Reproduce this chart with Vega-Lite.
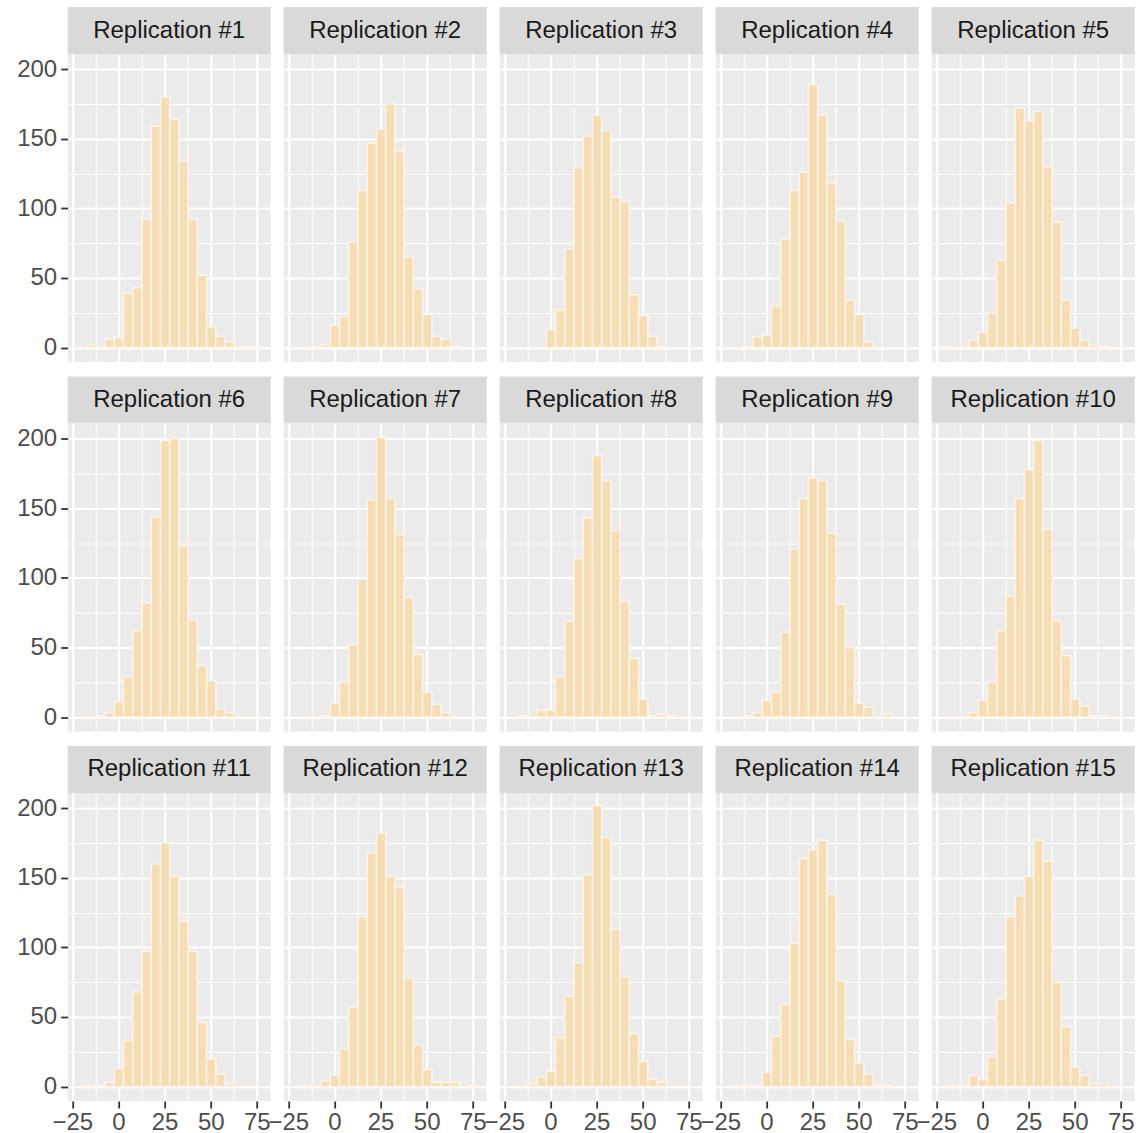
{
  "$schema": "https://vega.github.io/schema/vega-lite/v6.json",
  "background": "white",
  "padding": {"left": 15.7, "top": 7, "right": 0, "bottom": 0},
  "datasets": {
    "h": [
      {"r":1,"x":-22.5,"n":0},{"r":1,"x":-17.5,"n":2},{"r":1,"x":-12.5,"n":0},{"r":1,"x":-7.5,"n":6},{"r":1,"x":-2.5,"n":7},{"r":1,"x":2.5,"n":39},{"r":1,"x":7.5,"n":43},{"r":1,"x":12.5,"n":92},{"r":1,"x":17.5,"n":159},{"r":1,"x":22.5,"n":180},{"r":1,"x":27.5,"n":164},{"r":1,"x":32.5,"n":134},{"r":1,"x":37.5,"n":92},{"r":1,"x":42.5,"n":52},{"r":1,"x":47.5,"n":15},{"r":1,"x":52.5,"n":8},{"r":1,"x":57.5,"n":4},{"r":1,"x":62.5,"n":0},{"r":1,"x":67.5,"n":1},{"r":1,"x":72.5,"n":1},
      {"r":2,"x":-22.5,"n":0},{"r":2,"x":-17.5,"n":0},{"r":2,"x":-12.5,"n":1},{"r":2,"x":-7.5,"n":2},{"r":2,"x":-2.5,"n":16},{"r":2,"x":2.5,"n":22},{"r":2,"x":7.5,"n":76},{"r":2,"x":12.5,"n":113},{"r":2,"x":17.5,"n":147},{"r":2,"x":22.5,"n":157},{"r":2,"x":27.5,"n":175},{"r":2,"x":32.5,"n":141},{"r":2,"x":37.5,"n":65},{"r":2,"x":42.5,"n":42},{"r":2,"x":47.5,"n":24},{"r":2,"x":52.5,"n":8},{"r":2,"x":57.5,"n":6},{"r":2,"x":62.5,"n":1},{"r":2,"x":67.5,"n":0},{"r":2,"x":72.5,"n":0},
      {"r":3,"x":-22.5,"n":0},{"r":3,"x":-17.5,"n":0},{"r":3,"x":-12.5,"n":0},{"r":3,"x":-7.5,"n":0},{"r":3,"x":-2.5,"n":13},{"r":3,"x":2.5,"n":27},{"r":3,"x":7.5,"n":71},{"r":3,"x":12.5,"n":129},{"r":3,"x":17.5,"n":152},{"r":3,"x":22.5,"n":167},{"r":3,"x":27.5,"n":156},{"r":3,"x":32.5,"n":108},{"r":3,"x":37.5,"n":105},{"r":3,"x":42.5,"n":38},{"r":3,"x":47.5,"n":23},{"r":3,"x":52.5,"n":8},{"r":3,"x":57.5,"n":1},{"r":3,"x":62.5,"n":0},{"r":3,"x":67.5,"n":0},{"r":3,"x":72.5,"n":0},
      {"r":4,"x":-22.5,"n":0},{"r":4,"x":-17.5,"n":0},{"r":4,"x":-12.5,"n":1},{"r":4,"x":-7.5,"n":8},{"r":4,"x":-2.5,"n":9},{"r":4,"x":2.5,"n":30},{"r":4,"x":7.5,"n":78},{"r":4,"x":12.5,"n":113},{"r":4,"x":17.5,"n":126},{"r":4,"x":22.5,"n":189},{"r":4,"x":27.5,"n":167},{"r":4,"x":32.5,"n":118},{"r":4,"x":37.5,"n":91},{"r":4,"x":42.5,"n":34},{"r":4,"x":47.5,"n":24},{"r":4,"x":52.5,"n":4},{"r":4,"x":57.5,"n":0},{"r":4,"x":62.5,"n":0},{"r":4,"x":67.5,"n":0},{"r":4,"x":72.5,"n":0},
      {"r":5,"x":-22.5,"n":1},{"r":5,"x":-17.5,"n":0},{"r":5,"x":-12.5,"n":0},{"r":5,"x":-7.5,"n":5},{"r":5,"x":-2.5,"n":11},{"r":5,"x":2.5,"n":25},{"r":5,"x":7.5,"n":63},{"r":5,"x":12.5,"n":104},{"r":5,"x":17.5,"n":172},{"r":5,"x":22.5,"n":163},{"r":5,"x":27.5,"n":170},{"r":5,"x":32.5,"n":130},{"r":5,"x":37.5,"n":90},{"r":5,"x":42.5,"n":34},{"r":5,"x":47.5,"n":14},{"r":5,"x":52.5,"n":5},{"r":5,"x":57.5,"n":2},{"r":5,"x":62.5,"n":1},{"r":5,"x":67.5,"n":0},{"r":5,"x":72.5,"n":0},
      {"r":6,"x":-22.5,"n":0},{"r":6,"x":-17.5,"n":0},{"r":6,"x":-12.5,"n":1},{"r":6,"x":-7.5,"n":3},{"r":6,"x":-2.5,"n":11},{"r":6,"x":2.5,"n":29},{"r":6,"x":7.5,"n":62},{"r":6,"x":12.5,"n":82},{"r":6,"x":17.5,"n":144},{"r":6,"x":22.5,"n":199},{"r":6,"x":27.5,"n":200},{"r":6,"x":32.5,"n":123},{"r":6,"x":37.5,"n":70},{"r":6,"x":42.5,"n":37},{"r":6,"x":47.5,"n":26},{"r":6,"x":52.5,"n":6},{"r":6,"x":57.5,"n":3},{"r":6,"x":62.5,"n":0},{"r":6,"x":67.5,"n":0},{"r":6,"x":72.5,"n":0},
      {"r":7,"x":-22.5,"n":0},{"r":7,"x":-17.5,"n":0},{"r":7,"x":-12.5,"n":0},{"r":7,"x":-7.5,"n":1},{"r":7,"x":-2.5,"n":10},{"r":7,"x":2.5,"n":25},{"r":7,"x":7.5,"n":52},{"r":7,"x":12.5,"n":99},{"r":7,"x":17.5,"n":156},{"r":7,"x":22.5,"n":201},{"r":7,"x":27.5,"n":157},{"r":7,"x":32.5,"n":131},{"r":7,"x":37.5,"n":86},{"r":7,"x":42.5,"n":45},{"r":7,"x":47.5,"n":18},{"r":7,"x":52.5,"n":9},{"r":7,"x":57.5,"n":3},{"r":7,"x":62.5,"n":0},{"r":7,"x":67.5,"n":0},{"r":7,"x":72.5,"n":0},
      {"r":8,"x":-22.5,"n":0},{"r":8,"x":-17.5,"n":1},{"r":8,"x":-12.5,"n":0},{"r":8,"x":-7.5,"n":5},{"r":8,"x":-2.5,"n":5},{"r":8,"x":2.5,"n":29},{"r":8,"x":7.5,"n":69},{"r":8,"x":12.5,"n":114},{"r":8,"x":17.5,"n":143},{"r":8,"x":22.5,"n":188},{"r":8,"x":27.5,"n":170},{"r":8,"x":32.5,"n":134},{"r":8,"x":37.5,"n":83},{"r":8,"x":42.5,"n":42},{"r":8,"x":47.5,"n":13},{"r":8,"x":52.5,"n":1},{"r":8,"x":57.5,"n":2},{"r":8,"x":62.5,"n":1},{"r":8,"x":67.5,"n":0},{"r":8,"x":72.5,"n":0},
      {"r":9,"x":-22.5,"n":0},{"r":9,"x":-17.5,"n":0},{"r":9,"x":-12.5,"n":1},{"r":9,"x":-7.5,"n":3},{"r":9,"x":-2.5,"n":12},{"r":9,"x":2.5,"n":18},{"r":9,"x":7.5,"n":61},{"r":9,"x":12.5,"n":121},{"r":9,"x":17.5,"n":157},{"r":9,"x":22.5,"n":172},{"r":9,"x":27.5,"n":170},{"r":9,"x":32.5,"n":132},{"r":9,"x":37.5,"n":81},{"r":9,"x":42.5,"n":50},{"r":9,"x":47.5,"n":10},{"r":9,"x":52.5,"n":7},{"r":9,"x":57.5,"n":0},{"r":9,"x":62.5,"n":2},{"r":9,"x":67.5,"n":0},{"r":9,"x":72.5,"n":0},
      {"r":10,"x":-22.5,"n":0},{"r":10,"x":-17.5,"n":0},{"r":10,"x":-12.5,"n":0},{"r":10,"x":-7.5,"n":3},{"r":10,"x":-2.5,"n":12},{"r":10,"x":2.5,"n":25},{"r":10,"x":7.5,"n":62},{"r":10,"x":12.5,"n":87},{"r":10,"x":17.5,"n":157},{"r":10,"x":22.5,"n":178},{"r":10,"x":27.5,"n":199},{"r":10,"x":32.5,"n":135},{"r":10,"x":37.5,"n":69},{"r":10,"x":42.5,"n":44},{"r":10,"x":47.5,"n":13},{"r":10,"x":52.5,"n":8},{"r":10,"x":57.5,"n":1},{"r":10,"x":62.5,"n":1},{"r":10,"x":67.5,"n":0},{"r":10,"x":72.5,"n":0},
      {"r":11,"x":-22.5,"n":0},{"r":11,"x":-17.5,"n":1},{"r":11,"x":-12.5,"n":1},{"r":11,"x":-7.5,"n":3},{"r":11,"x":-2.5,"n":13},{"r":11,"x":2.5,"n":33},{"r":11,"x":7.5,"n":68},{"r":11,"x":12.5,"n":97},{"r":11,"x":17.5,"n":160},{"r":11,"x":22.5,"n":175},{"r":11,"x":27.5,"n":151},{"r":11,"x":32.5,"n":119},{"r":11,"x":37.5,"n":97},{"r":11,"x":42.5,"n":46},{"r":11,"x":47.5,"n":20},{"r":11,"x":52.5,"n":9},{"r":11,"x":57.5,"n":2},{"r":11,"x":62.5,"n":0},{"r":11,"x":67.5,"n":0},{"r":11,"x":72.5,"n":0},
      {"r":12,"x":-22.5,"n":0},{"r":12,"x":-17.5,"n":1},{"r":12,"x":-12.5,"n":0},{"r":12,"x":-7.5,"n":4},{"r":12,"x":-2.5,"n":8},{"r":12,"x":2.5,"n":27},{"r":12,"x":7.5,"n":57},{"r":12,"x":12.5,"n":122},{"r":12,"x":17.5,"n":168},{"r":12,"x":22.5,"n":182},{"r":12,"x":27.5,"n":151},{"r":12,"x":32.5,"n":143},{"r":12,"x":37.5,"n":78},{"r":12,"x":42.5,"n":30},{"r":12,"x":47.5,"n":12},{"r":12,"x":52.5,"n":3},{"r":12,"x":57.5,"n":3},{"r":12,"x":62.5,"n":3},{"r":12,"x":67.5,"n":0},{"r":12,"x":72.5,"n":1},
      {"r":13,"x":-22.5,"n":0},{"r":13,"x":-17.5,"n":0},{"r":13,"x":-12.5,"n":2},{"r":13,"x":-7.5,"n":7},{"r":13,"x":-2.5,"n":11},{"r":13,"x":2.5,"n":35},{"r":13,"x":7.5,"n":65},{"r":13,"x":12.5,"n":89},{"r":13,"x":17.5,"n":152},{"r":13,"x":22.5,"n":202},{"r":13,"x":27.5,"n":179},{"r":13,"x":32.5,"n":113},{"r":13,"x":37.5,"n":79},{"r":13,"x":42.5,"n":38},{"r":13,"x":47.5,"n":18},{"r":13,"x":52.5,"n":5},{"r":13,"x":57.5,"n":3},{"r":13,"x":62.5,"n":0},{"r":13,"x":67.5,"n":0},{"r":13,"x":72.5,"n":0},
      {"r":14,"x":-22.5,"n":0},{"r":14,"x":-17.5,"n":1},{"r":14,"x":-12.5,"n":1},{"r":14,"x":-7.5,"n":1},{"r":14,"x":-2.5,"n":10},{"r":14,"x":2.5,"n":36},{"r":14,"x":7.5,"n":59},{"r":14,"x":12.5,"n":103},{"r":14,"x":17.5,"n":164},{"r":14,"x":22.5,"n":170},{"r":14,"x":27.5,"n":177},{"r":14,"x":32.5,"n":138},{"r":14,"x":37.5,"n":76},{"r":14,"x":42.5,"n":34},{"r":14,"x":47.5,"n":17},{"r":14,"x":52.5,"n":9},{"r":14,"x":57.5,"n":1},{"r":14,"x":62.5,"n":1},{"r":14,"x":67.5,"n":0},{"r":14,"x":72.5,"n":0},
      {"r":15,"x":-22.5,"n":0},{"r":15,"x":-17.5,"n":1},{"r":15,"x":-12.5,"n":1},{"r":15,"x":-7.5,"n":8},{"r":15,"x":-2.5,"n":5},{"r":15,"x":2.5,"n":21},{"r":15,"x":7.5,"n":63},{"r":15,"x":12.5,"n":122},{"r":15,"x":17.5,"n":137},{"r":15,"x":22.5,"n":151},{"r":15,"x":27.5,"n":177},{"r":15,"x":32.5,"n":162},{"r":15,"x":37.5,"n":75},{"r":15,"x":42.5,"n":43},{"r":15,"x":47.5,"n":14},{"r":15,"x":52.5,"n":8},{"r":15,"x":57.5,"n":2},{"r":15,"x":62.5,"n":2},{"r":15,"x":67.5,"n":0},{"r":15,"x":72.5,"n":0}
    ]
  },
  "columns": 5,
  "spacing": {"row": 14.5, "column": -3},
  "bounds": "full",
  "align": "each",
  "concat": [
    {"vconcat": [
      {"width": 203, "height": 47, "view": {"fill": "#D9D9D9", "stroke": null}, "data": {"values": [{"label": "Replication #1"}]}, "mark": {"type": "text", "fontSize": 24, "color": "#1A1A1A", "font": "Liberation Sans", "align": "center", "baseline": "middle"}, "encoding": {"text": {"field": "label"}}},
      {"width": 203, "height": 308, "view": {"fill": "#EBEBEB", "stroke": null}, "data": {"name": "h"}, "transform": [{"filter": "datum.r == 1"}],
       "mark": {"type": "bar", "fill": "#F5DEB3", "stroke": "#FFF3EA", "strokeWidth": 1.5, "binSpacing": 0},
       "encoding": {
         "x": {"field": "x", "type": "quantitative", "bin": {"binned": true, "step": 5}, "scale": {"domain": [-27.5, 82.5], "nice": false, "zero": false}, "axis": {"values": [-25, -12.5, 0, 12.5, 25, 37.5, 50, 62.5, 75], "gridWidth": {"condition": {"test": "datum.value % 25 != 0", "value": 1}, "value": 2}, "labels": false, "ticks": false}},
         "y": {"field": "n", "type": "quantitative", "scale": {"domain": [-10.4, 211], "nice": false, "zero": true}, "axis": {"values": [0, 25, 50, 75, 100, 125, 150, 175, 200], "gridWidth": {"condition": {"test": "datum.value % 50 != 0", "value": 1}, "value": 2}, "tickOpacity": {"condition": {"test": "datum.value % 50 != 0", "value": 0}, "value": 1}, "labelExpr": "datum.value % 50 == 0 ? datum.label : ''", "labels": true, "ticks": true}}
       }}
    ], "spacing": 0, "bounds": "flush"},
    {"vconcat": [
      {"width": 203, "height": 47, "view": {"fill": "#D9D9D9", "stroke": null}, "data": {"values": [{"label": "Replication #2"}]}, "mark": {"type": "text", "fontSize": 24, "color": "#1A1A1A", "font": "Liberation Sans", "align": "center", "baseline": "middle"}, "encoding": {"text": {"field": "label"}}},
      {"width": 203, "height": 308, "view": {"fill": "#EBEBEB", "stroke": null}, "data": {"name": "h"}, "transform": [{"filter": "datum.r == 2"}],
       "mark": {"type": "bar", "fill": "#F5DEB3", "stroke": "#FFF3EA", "strokeWidth": 1.5, "binSpacing": 0},
       "encoding": {
         "x": {"field": "x", "type": "quantitative", "bin": {"binned": true, "step": 5}, "scale": {"domain": [-27.5, 82.5], "nice": false, "zero": false}, "axis": {"values": [-25, -12.5, 0, 12.5, 25, 37.5, 50, 62.5, 75], "gridWidth": {"condition": {"test": "datum.value % 25 != 0", "value": 1}, "value": 2}, "labels": false, "ticks": false}},
         "y": {"field": "n", "type": "quantitative", "scale": {"domain": [-10.4, 211], "nice": false, "zero": true}, "axis": {"values": [0, 25, 50, 75, 100, 125, 150, 175, 200], "gridWidth": {"condition": {"test": "datum.value % 50 != 0", "value": 1}, "value": 2}, "labels": false, "ticks": false}}
       }}
    ], "spacing": 0, "bounds": "flush"},
    {"vconcat": [
      {"width": 203, "height": 47, "view": {"fill": "#D9D9D9", "stroke": null}, "data": {"values": [{"label": "Replication #3"}]}, "mark": {"type": "text", "fontSize": 24, "color": "#1A1A1A", "font": "Liberation Sans", "align": "center", "baseline": "middle"}, "encoding": {"text": {"field": "label"}}},
      {"width": 203, "height": 308, "view": {"fill": "#EBEBEB", "stroke": null}, "data": {"name": "h"}, "transform": [{"filter": "datum.r == 3"}],
       "mark": {"type": "bar", "fill": "#F5DEB3", "stroke": "#FFF3EA", "strokeWidth": 1.5, "binSpacing": 0},
       "encoding": {
         "x": {"field": "x", "type": "quantitative", "bin": {"binned": true, "step": 5}, "scale": {"domain": [-27.5, 82.5], "nice": false, "zero": false}, "axis": {"values": [-25, -12.5, 0, 12.5, 25, 37.5, 50, 62.5, 75], "gridWidth": {"condition": {"test": "datum.value % 25 != 0", "value": 1}, "value": 2}, "labels": false, "ticks": false}},
         "y": {"field": "n", "type": "quantitative", "scale": {"domain": [-10.4, 211], "nice": false, "zero": true}, "axis": {"values": [0, 25, 50, 75, 100, 125, 150, 175, 200], "gridWidth": {"condition": {"test": "datum.value % 50 != 0", "value": 1}, "value": 2}, "labels": false, "ticks": false}}
       }}
    ], "spacing": 0, "bounds": "flush"},
    {"vconcat": [
      {"width": 203, "height": 47, "view": {"fill": "#D9D9D9", "stroke": null}, "data": {"values": [{"label": "Replication #4"}]}, "mark": {"type": "text", "fontSize": 24, "color": "#1A1A1A", "font": "Liberation Sans", "align": "center", "baseline": "middle"}, "encoding": {"text": {"field": "label"}}},
      {"width": 203, "height": 308, "view": {"fill": "#EBEBEB", "stroke": null}, "data": {"name": "h"}, "transform": [{"filter": "datum.r == 4"}],
       "mark": {"type": "bar", "fill": "#F5DEB3", "stroke": "#FFF3EA", "strokeWidth": 1.5, "binSpacing": 0},
       "encoding": {
         "x": {"field": "x", "type": "quantitative", "bin": {"binned": true, "step": 5}, "scale": {"domain": [-27.5, 82.5], "nice": false, "zero": false}, "axis": {"values": [-25, -12.5, 0, 12.5, 25, 37.5, 50, 62.5, 75], "gridWidth": {"condition": {"test": "datum.value % 25 != 0", "value": 1}, "value": 2}, "labels": false, "ticks": false}},
         "y": {"field": "n", "type": "quantitative", "scale": {"domain": [-10.4, 211], "nice": false, "zero": true}, "axis": {"values": [0, 25, 50, 75, 100, 125, 150, 175, 200], "gridWidth": {"condition": {"test": "datum.value % 50 != 0", "value": 1}, "value": 2}, "labels": false, "ticks": false}}
       }}
    ], "spacing": 0, "bounds": "flush"},
    {"vconcat": [
      {"width": 203, "height": 47, "view": {"fill": "#D9D9D9", "stroke": null}, "data": {"values": [{"label": "Replication #5"}]}, "mark": {"type": "text", "fontSize": 24, "color": "#1A1A1A", "font": "Liberation Sans", "align": "center", "baseline": "middle"}, "encoding": {"text": {"field": "label"}}},
      {"width": 203, "height": 308, "view": {"fill": "#EBEBEB", "stroke": null}, "data": {"name": "h"}, "transform": [{"filter": "datum.r == 5"}],
       "mark": {"type": "bar", "fill": "#F5DEB3", "stroke": "#FFF3EA", "strokeWidth": 1.5, "binSpacing": 0},
       "encoding": {
         "x": {"field": "x", "type": "quantitative", "bin": {"binned": true, "step": 5}, "scale": {"domain": [-27.5, 82.5], "nice": false, "zero": false}, "axis": {"values": [-25, -12.5, 0, 12.5, 25, 37.5, 50, 62.5, 75], "gridWidth": {"condition": {"test": "datum.value % 25 != 0", "value": 1}, "value": 2}, "labels": false, "ticks": false}},
         "y": {"field": "n", "type": "quantitative", "scale": {"domain": [-10.4, 211], "nice": false, "zero": true}, "axis": {"values": [0, 25, 50, 75, 100, 125, 150, 175, 200], "gridWidth": {"condition": {"test": "datum.value % 50 != 0", "value": 1}, "value": 2}, "labels": false, "ticks": false}}
       }}
    ], "spacing": 0, "bounds": "flush"},
    {"vconcat": [
      {"width": 203, "height": 47, "view": {"fill": "#D9D9D9", "stroke": null}, "data": {"values": [{"label": "Replication #6"}]}, "mark": {"type": "text", "fontSize": 24, "color": "#1A1A1A", "font": "Liberation Sans", "align": "center", "baseline": "middle"}, "encoding": {"text": {"field": "label"}}},
      {"width": 203, "height": 308, "view": {"fill": "#EBEBEB", "stroke": null}, "data": {"name": "h"}, "transform": [{"filter": "datum.r == 6"}],
       "mark": {"type": "bar", "fill": "#F5DEB3", "stroke": "#FFF3EA", "strokeWidth": 1.5, "binSpacing": 0},
       "encoding": {
         "x": {"field": "x", "type": "quantitative", "bin": {"binned": true, "step": 5}, "scale": {"domain": [-27.5, 82.5], "nice": false, "zero": false}, "axis": {"values": [-25, -12.5, 0, 12.5, 25, 37.5, 50, 62.5, 75], "gridWidth": {"condition": {"test": "datum.value % 25 != 0", "value": 1}, "value": 2}, "labels": false, "ticks": false}},
         "y": {"field": "n", "type": "quantitative", "scale": {"domain": [-10.4, 211], "nice": false, "zero": true}, "axis": {"values": [0, 25, 50, 75, 100, 125, 150, 175, 200], "gridWidth": {"condition": {"test": "datum.value % 50 != 0", "value": 1}, "value": 2}, "tickOpacity": {"condition": {"test": "datum.value % 50 != 0", "value": 0}, "value": 1}, "labelExpr": "datum.value % 50 == 0 ? datum.label : ''", "labels": true, "ticks": true}}
       }}
    ], "spacing": 0, "bounds": "flush"},
    {"vconcat": [
      {"width": 203, "height": 47, "view": {"fill": "#D9D9D9", "stroke": null}, "data": {"values": [{"label": "Replication #7"}]}, "mark": {"type": "text", "fontSize": 24, "color": "#1A1A1A", "font": "Liberation Sans", "align": "center", "baseline": "middle"}, "encoding": {"text": {"field": "label"}}},
      {"width": 203, "height": 308, "view": {"fill": "#EBEBEB", "stroke": null}, "data": {"name": "h"}, "transform": [{"filter": "datum.r == 7"}],
       "mark": {"type": "bar", "fill": "#F5DEB3", "stroke": "#FFF3EA", "strokeWidth": 1.5, "binSpacing": 0},
       "encoding": {
         "x": {"field": "x", "type": "quantitative", "bin": {"binned": true, "step": 5}, "scale": {"domain": [-27.5, 82.5], "nice": false, "zero": false}, "axis": {"values": [-25, -12.5, 0, 12.5, 25, 37.5, 50, 62.5, 75], "gridWidth": {"condition": {"test": "datum.value % 25 != 0", "value": 1}, "value": 2}, "labels": false, "ticks": false}},
         "y": {"field": "n", "type": "quantitative", "scale": {"domain": [-10.4, 211], "nice": false, "zero": true}, "axis": {"values": [0, 25, 50, 75, 100, 125, 150, 175, 200], "gridWidth": {"condition": {"test": "datum.value % 50 != 0", "value": 1}, "value": 2}, "labels": false, "ticks": false}}
       }}
    ], "spacing": 0, "bounds": "flush"},
    {"vconcat": [
      {"width": 203, "height": 47, "view": {"fill": "#D9D9D9", "stroke": null}, "data": {"values": [{"label": "Replication #8"}]}, "mark": {"type": "text", "fontSize": 24, "color": "#1A1A1A", "font": "Liberation Sans", "align": "center", "baseline": "middle"}, "encoding": {"text": {"field": "label"}}},
      {"width": 203, "height": 308, "view": {"fill": "#EBEBEB", "stroke": null}, "data": {"name": "h"}, "transform": [{"filter": "datum.r == 8"}],
       "mark": {"type": "bar", "fill": "#F5DEB3", "stroke": "#FFF3EA", "strokeWidth": 1.5, "binSpacing": 0},
       "encoding": {
         "x": {"field": "x", "type": "quantitative", "bin": {"binned": true, "step": 5}, "scale": {"domain": [-27.5, 82.5], "nice": false, "zero": false}, "axis": {"values": [-25, -12.5, 0, 12.5, 25, 37.5, 50, 62.5, 75], "gridWidth": {"condition": {"test": "datum.value % 25 != 0", "value": 1}, "value": 2}, "labels": false, "ticks": false}},
         "y": {"field": "n", "type": "quantitative", "scale": {"domain": [-10.4, 211], "nice": false, "zero": true}, "axis": {"values": [0, 25, 50, 75, 100, 125, 150, 175, 200], "gridWidth": {"condition": {"test": "datum.value % 50 != 0", "value": 1}, "value": 2}, "labels": false, "ticks": false}}
       }}
    ], "spacing": 0, "bounds": "flush"},
    {"vconcat": [
      {"width": 203, "height": 47, "view": {"fill": "#D9D9D9", "stroke": null}, "data": {"values": [{"label": "Replication #9"}]}, "mark": {"type": "text", "fontSize": 24, "color": "#1A1A1A", "font": "Liberation Sans", "align": "center", "baseline": "middle"}, "encoding": {"text": {"field": "label"}}},
      {"width": 203, "height": 308, "view": {"fill": "#EBEBEB", "stroke": null}, "data": {"name": "h"}, "transform": [{"filter": "datum.r == 9"}],
       "mark": {"type": "bar", "fill": "#F5DEB3", "stroke": "#FFF3EA", "strokeWidth": 1.5, "binSpacing": 0},
       "encoding": {
         "x": {"field": "x", "type": "quantitative", "bin": {"binned": true, "step": 5}, "scale": {"domain": [-27.5, 82.5], "nice": false, "zero": false}, "axis": {"values": [-25, -12.5, 0, 12.5, 25, 37.5, 50, 62.5, 75], "gridWidth": {"condition": {"test": "datum.value % 25 != 0", "value": 1}, "value": 2}, "labels": false, "ticks": false}},
         "y": {"field": "n", "type": "quantitative", "scale": {"domain": [-10.4, 211], "nice": false, "zero": true}, "axis": {"values": [0, 25, 50, 75, 100, 125, 150, 175, 200], "gridWidth": {"condition": {"test": "datum.value % 50 != 0", "value": 1}, "value": 2}, "labels": false, "ticks": false}}
       }}
    ], "spacing": 0, "bounds": "flush"},
    {"vconcat": [
      {"width": 203, "height": 47, "view": {"fill": "#D9D9D9", "stroke": null}, "data": {"values": [{"label": "Replication #10"}]}, "mark": {"type": "text", "fontSize": 24, "color": "#1A1A1A", "font": "Liberation Sans", "align": "center", "baseline": "middle"}, "encoding": {"text": {"field": "label"}}},
      {"width": 203, "height": 308, "view": {"fill": "#EBEBEB", "stroke": null}, "data": {"name": "h"}, "transform": [{"filter": "datum.r == 10"}],
       "mark": {"type": "bar", "fill": "#F5DEB3", "stroke": "#FFF3EA", "strokeWidth": 1.5, "binSpacing": 0},
       "encoding": {
         "x": {"field": "x", "type": "quantitative", "bin": {"binned": true, "step": 5}, "scale": {"domain": [-27.5, 82.5], "nice": false, "zero": false}, "axis": {"values": [-25, -12.5, 0, 12.5, 25, 37.5, 50, 62.5, 75], "gridWidth": {"condition": {"test": "datum.value % 25 != 0", "value": 1}, "value": 2}, "labels": false, "ticks": false}},
         "y": {"field": "n", "type": "quantitative", "scale": {"domain": [-10.4, 211], "nice": false, "zero": true}, "axis": {"values": [0, 25, 50, 75, 100, 125, 150, 175, 200], "gridWidth": {"condition": {"test": "datum.value % 50 != 0", "value": 1}, "value": 2}, "labels": false, "ticks": false}}
       }}
    ], "spacing": 0, "bounds": "flush"},
    {"vconcat": [
      {"width": 203, "height": 47, "view": {"fill": "#D9D9D9", "stroke": null}, "data": {"values": [{"label": "Replication #11"}]}, "mark": {"type": "text", "fontSize": 24, "color": "#1A1A1A", "font": "Liberation Sans", "align": "center", "baseline": "middle"}, "encoding": {"text": {"field": "label"}}},
      {"width": 203, "height": 308, "view": {"fill": "#EBEBEB", "stroke": null}, "data": {"name": "h"}, "transform": [{"filter": "datum.r == 11"}],
       "mark": {"type": "bar", "fill": "#F5DEB3", "stroke": "#FFF3EA", "strokeWidth": 1.5, "binSpacing": 0},
       "encoding": {
         "x": {"field": "x", "type": "quantitative", "bin": {"binned": true, "step": 5}, "scale": {"domain": [-27.5, 82.5], "nice": false, "zero": false}, "axis": {"values": [-25, -12.5, 0, 12.5, 25, 37.5, 50, 62.5, 75], "gridWidth": {"condition": {"test": "datum.value % 25 != 0", "value": 1}, "value": 2}, "tickOpacity": {"condition": {"test": "datum.value % 25 != 0", "value": 0}, "value": 1}, "labelExpr": "datum.value % 25 == 0 ? datum.label : ''", "labels": true, "ticks": true}},
         "y": {"field": "n", "type": "quantitative", "scale": {"domain": [-10.4, 211], "nice": false, "zero": true}, "axis": {"values": [0, 25, 50, 75, 100, 125, 150, 175, 200], "gridWidth": {"condition": {"test": "datum.value % 50 != 0", "value": 1}, "value": 2}, "tickOpacity": {"condition": {"test": "datum.value % 50 != 0", "value": 0}, "value": 1}, "labelExpr": "datum.value % 50 == 0 ? datum.label : ''", "labels": true, "ticks": true}}
       }}
    ], "spacing": 0, "bounds": "flush"},
    {"vconcat": [
      {"width": 203, "height": 47, "view": {"fill": "#D9D9D9", "stroke": null}, "data": {"values": [{"label": "Replication #12"}]}, "mark": {"type": "text", "fontSize": 24, "color": "#1A1A1A", "font": "Liberation Sans", "align": "center", "baseline": "middle"}, "encoding": {"text": {"field": "label"}}},
      {"width": 203, "height": 308, "view": {"fill": "#EBEBEB", "stroke": null}, "data": {"name": "h"}, "transform": [{"filter": "datum.r == 12"}],
       "mark": {"type": "bar", "fill": "#F5DEB3", "stroke": "#FFF3EA", "strokeWidth": 1.5, "binSpacing": 0},
       "encoding": {
         "x": {"field": "x", "type": "quantitative", "bin": {"binned": true, "step": 5}, "scale": {"domain": [-27.5, 82.5], "nice": false, "zero": false}, "axis": {"values": [-25, -12.5, 0, 12.5, 25, 37.5, 50, 62.5, 75], "gridWidth": {"condition": {"test": "datum.value % 25 != 0", "value": 1}, "value": 2}, "tickOpacity": {"condition": {"test": "datum.value % 25 != 0", "value": 0}, "value": 1}, "labelExpr": "datum.value % 25 == 0 ? datum.label : ''", "labels": true, "ticks": true}},
         "y": {"field": "n", "type": "quantitative", "scale": {"domain": [-10.4, 211], "nice": false, "zero": true}, "axis": {"values": [0, 25, 50, 75, 100, 125, 150, 175, 200], "gridWidth": {"condition": {"test": "datum.value % 50 != 0", "value": 1}, "value": 2}, "labels": false, "ticks": false}}
       }}
    ], "spacing": 0, "bounds": "flush"},
    {"vconcat": [
      {"width": 203, "height": 47, "view": {"fill": "#D9D9D9", "stroke": null}, "data": {"values": [{"label": "Replication #13"}]}, "mark": {"type": "text", "fontSize": 24, "color": "#1A1A1A", "font": "Liberation Sans", "align": "center", "baseline": "middle"}, "encoding": {"text": {"field": "label"}}},
      {"width": 203, "height": 308, "view": {"fill": "#EBEBEB", "stroke": null}, "data": {"name": "h"}, "transform": [{"filter": "datum.r == 13"}],
       "mark": {"type": "bar", "fill": "#F5DEB3", "stroke": "#FFF3EA", "strokeWidth": 1.5, "binSpacing": 0},
       "encoding": {
         "x": {"field": "x", "type": "quantitative", "bin": {"binned": true, "step": 5}, "scale": {"domain": [-27.5, 82.5], "nice": false, "zero": false}, "axis": {"values": [-25, -12.5, 0, 12.5, 25, 37.5, 50, 62.5, 75], "gridWidth": {"condition": {"test": "datum.value % 25 != 0", "value": 1}, "value": 2}, "tickOpacity": {"condition": {"test": "datum.value % 25 != 0", "value": 0}, "value": 1}, "labelExpr": "datum.value % 25 == 0 ? datum.label : ''", "labels": true, "ticks": true}},
         "y": {"field": "n", "type": "quantitative", "scale": {"domain": [-10.4, 211], "nice": false, "zero": true}, "axis": {"values": [0, 25, 50, 75, 100, 125, 150, 175, 200], "gridWidth": {"condition": {"test": "datum.value % 50 != 0", "value": 1}, "value": 2}, "labels": false, "ticks": false}}
       }}
    ], "spacing": 0, "bounds": "flush"},
    {"vconcat": [
      {"width": 203, "height": 47, "view": {"fill": "#D9D9D9", "stroke": null}, "data": {"values": [{"label": "Replication #14"}]}, "mark": {"type": "text", "fontSize": 24, "color": "#1A1A1A", "font": "Liberation Sans", "align": "center", "baseline": "middle"}, "encoding": {"text": {"field": "label"}}},
      {"width": 203, "height": 308, "view": {"fill": "#EBEBEB", "stroke": null}, "data": {"name": "h"}, "transform": [{"filter": "datum.r == 14"}],
       "mark": {"type": "bar", "fill": "#F5DEB3", "stroke": "#FFF3EA", "strokeWidth": 1.5, "binSpacing": 0},
       "encoding": {
         "x": {"field": "x", "type": "quantitative", "bin": {"binned": true, "step": 5}, "scale": {"domain": [-27.5, 82.5], "nice": false, "zero": false}, "axis": {"values": [-25, -12.5, 0, 12.5, 25, 37.5, 50, 62.5, 75], "gridWidth": {"condition": {"test": "datum.value % 25 != 0", "value": 1}, "value": 2}, "tickOpacity": {"condition": {"test": "datum.value % 25 != 0", "value": 0}, "value": 1}, "labelExpr": "datum.value % 25 == 0 ? datum.label : ''", "labels": true, "ticks": true}},
         "y": {"field": "n", "type": "quantitative", "scale": {"domain": [-10.4, 211], "nice": false, "zero": true}, "axis": {"values": [0, 25, 50, 75, 100, 125, 150, 175, 200], "gridWidth": {"condition": {"test": "datum.value % 50 != 0", "value": 1}, "value": 2}, "labels": false, "ticks": false}}
       }}
    ], "spacing": 0, "bounds": "flush"},
    {"vconcat": [
      {"width": 203, "height": 47, "view": {"fill": "#D9D9D9", "stroke": null}, "data": {"values": [{"label": "Replication #15"}]}, "mark": {"type": "text", "fontSize": 24, "color": "#1A1A1A", "font": "Liberation Sans", "align": "center", "baseline": "middle"}, "encoding": {"text": {"field": "label"}}},
      {"width": 203, "height": 308, "view": {"fill": "#EBEBEB", "stroke": null}, "data": {"name": "h"}, "transform": [{"filter": "datum.r == 15"}],
       "mark": {"type": "bar", "fill": "#F5DEB3", "stroke": "#FFF3EA", "strokeWidth": 1.5, "binSpacing": 0},
       "encoding": {
         "x": {"field": "x", "type": "quantitative", "bin": {"binned": true, "step": 5}, "scale": {"domain": [-27.5, 82.5], "nice": false, "zero": false}, "axis": {"values": [-25, -12.5, 0, 12.5, 25, 37.5, 50, 62.5, 75], "gridWidth": {"condition": {"test": "datum.value % 25 != 0", "value": 1}, "value": 2}, "tickOpacity": {"condition": {"test": "datum.value % 25 != 0", "value": 0}, "value": 1}, "labelExpr": "datum.value % 25 == 0 ? datum.label : ''", "labels": true, "ticks": true}},
         "y": {"field": "n", "type": "quantitative", "scale": {"domain": [-10.4, 211], "nice": false, "zero": true}, "axis": {"values": [0, 25, 50, 75, 100, 125, 150, 175, 200], "gridWidth": {"condition": {"test": "datum.value % 50 != 0", "value": 1}, "value": 2}, "labels": false, "ticks": false}}
       }}
    ], "spacing": 0, "bounds": "flush"}
  ],
  "config": {
    "font": "Liberation Sans",
    "view": {"stroke": null},
    "axis": {
      "title": null,
      "domain": false,
      "grid": true,
      "gridColor": "#FFFFFF",
      "gridOpacity": 1,
      "labelFont": "Liberation Sans",
      "labelFontSize": 24,
      "labelColor": "#4D4D4D",
      "labelPadding": 4,
      "labelOverlap": false,
      "labelFlush": false,
      "tickColor": "#333333",
      "tickWidth": 1.8,
      "tickSize": 7
    },
    "axisX": {"labelPadding": 3}
  }
}
